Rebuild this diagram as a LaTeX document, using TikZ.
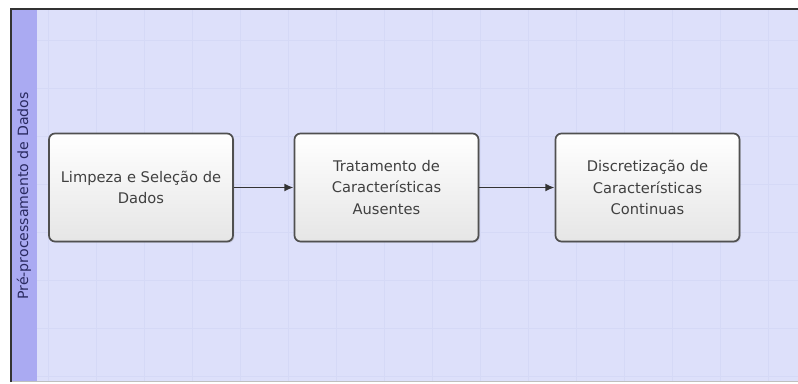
\documentclass[tikz,border=0pt]{standalone}
\usepackage{fontspec}
\setmainfont{DejaVu Sans}
\usetikzlibrary{arrows.meta,shadows}
\definecolor{lanebody}{HTML}{DDE0FA}
\definecolor{lanehead}{HTML}{AAAAF2}
\definecolor{gridc}{HTML}{D5D9F6}
\definecolor{boxline}{HTML}{505050}
\definecolor{txt}{HTML}{404040}
\definecolor{lanetxt}{HTML}{2A2A60}
\tikzset{
  procbox/.style={draw=boxline, line width=1.3pt, rounded corners=4.5pt,
    top color=white, bottom color=black!10, minimum width=138pt, minimum height=81pt,
    align=center, text=txt, font=\fontsize{11}{16}\selectfont, inner sep=0pt,
    drop shadow={opacity=0.25, shadow xshift=1pt, shadow yshift=-1pt}},
  flow/.style={draw=black!80, line width=1.4pt, -{Latex[length=7pt,width=6pt]}},
}
\begin{document}
\begin{tikzpicture}[x=0.75pt,y=-0.75pt]
\useasboundingbox (0,0) rectangle (798,383);
\fill[white] (0,0) rectangle (798,383);
% lane body
\fill[lanebody] (11,9) rectangle (798,382);
\begin{scope}
\clip (37,10) rectangle (798,381);
\foreach \gx in {48,96,...,798} \draw[gridc, line width=0.4pt] (\gx,10) -- (\gx,381);
\foreach \gy in {40,88,...,381} \draw[gridc, line width=0.4pt] (37,\gy) -- (798,\gy);
\end{scope}
% lane header
\fill[lanehead] (11,9) rectangle (37,382);
\draw[black!25, line width=0.8pt] (11,381.5) -- (798,381.5);
\draw[black!80, line width=1.6pt] (11,382) -- (11,9) -- (798,9);
\node[rotate=90, text=lanetxt, font=\fontsize{10.6}{12}\selectfont] (lane) at (24,196) {Pré-processamento de Dados};
% boxes
\node[procbox] (b1) at (141,187.5) {Limpeza e Seleção de\\Dados};
\node[procbox] (b2) at (386.5,187.5) {Tratamento de\\Características\\Ausentes};
\node[procbox] (b3) at (647.5,187.5) {Discretização de\\Características\\Continuas};
\draw[flow] (b1) -- (b2);
\draw[flow] (b2) -- (b3);
\end{tikzpicture}
\end{document}
